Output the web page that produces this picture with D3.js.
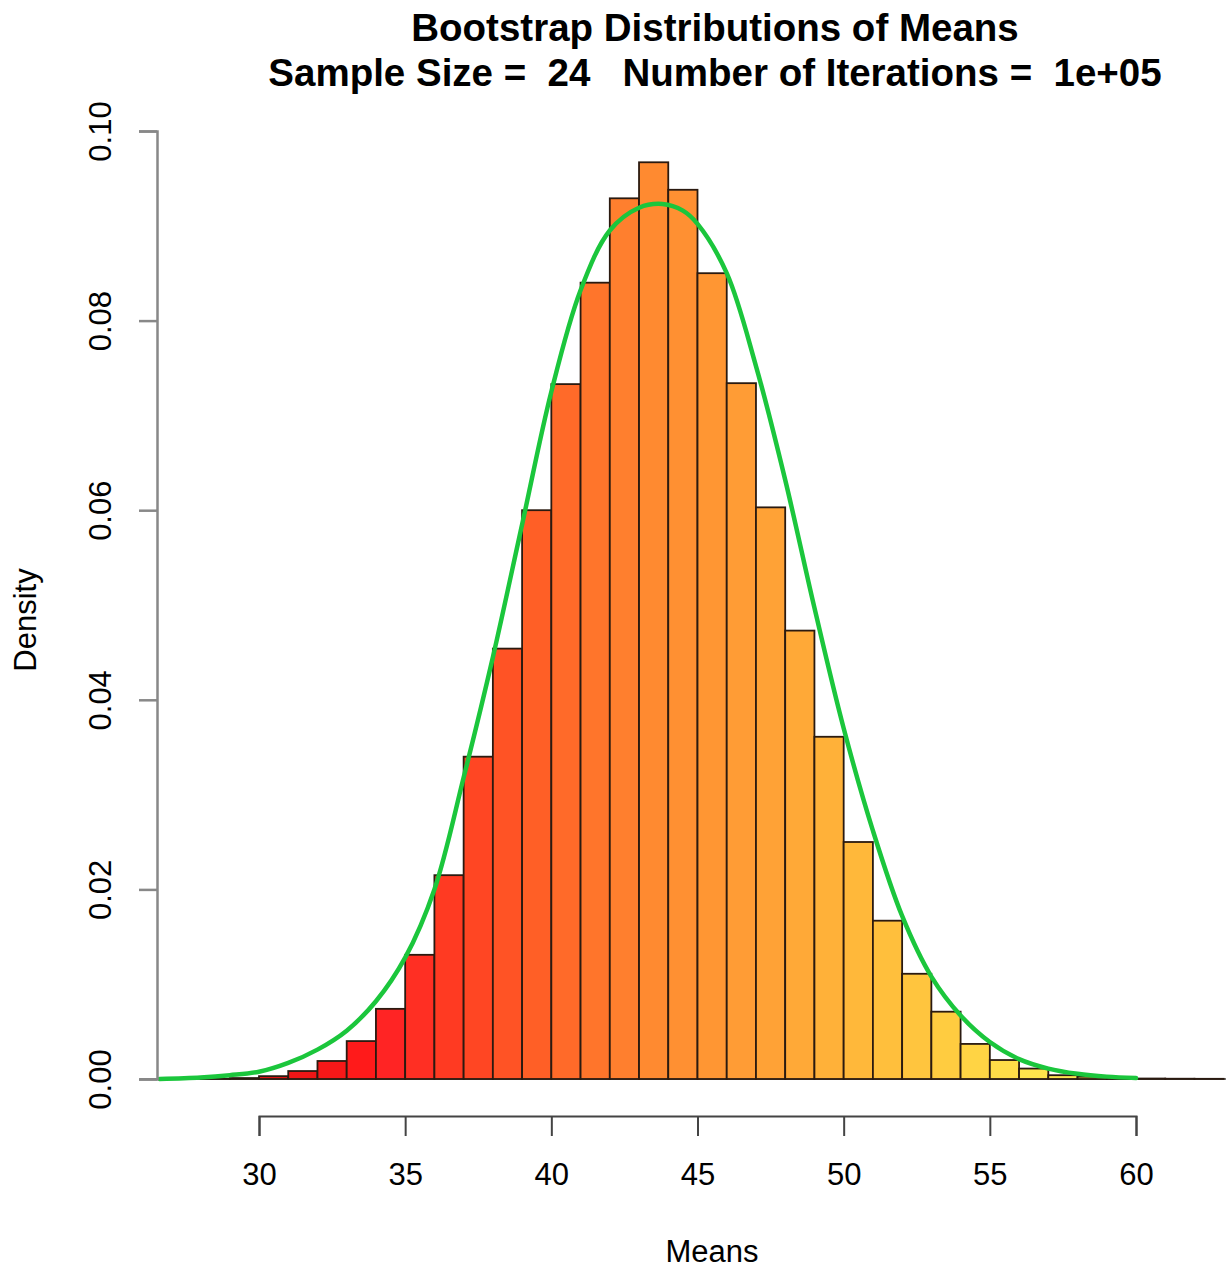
<!DOCTYPE html>
<html>
<head>
<meta charset="utf-8">
<script src="https://cdn.jsdelivr.net/npm/d3@7"></script>
<style>
  body { margin: 0; background: #fff; }
  text { font-family: "Liberation Sans", Arial, Helvetica, sans-serif; }
</style>
</head>
<body>
<div id="chart"></div>
<script>
// histogram bins (left edge of each 1-unit bin) and densities
var binStarts = [28, 29, 30, 31, 32, 33, 34, 35, 36, 37, 38, 39, 40, 41, 42, 43, 44,
  45, 46, 47, 48, 49, 50, 51, 52, 53, 54, 55, 56, 57, 58, 59, 60, 61, 62];
var densities = [0.00003, 0.0001, 0.0003, 0.00084, 0.0019, 0.0040, 0.0074, 0.0131,
  0.0215, 0.0340, 0.0454, 0.0600, 0.0733, 0.0840, 0.0929, 0.0967, 0.0938, 0.0850,
  0.0734, 0.0603, 0.0473, 0.0361, 0.0250, 0.0167, 0.0111, 0.0071, 0.0037, 0.0020,
  0.0011, 0.0004, 0.00024, 0.0001, 0.00005, 0.00003, 0.00002];

// green density curve
var curveX = [26.6, 28, 29, 30, 31, 32, 33, 34, 35, 36, 37, 38, 39, 40, 41, 42, 43,
  43.8, 44.5, 45, 46, 47, 48, 49, 50, 51, 52, 53, 54, 55, 56, 57, 58, 59, 60];
var curveY = [0, 0.00016, 0.0004, 0.00077, 0.0017, 0.0031, 0.0051, 0.0082, 0.0128,
  0.0200, 0.0318, 0.0445, 0.0585, 0.0725, 0.0832, 0.0895, 0.0919, 0.0923, 0.0916,
  0.0902, 0.0850, 0.0752, 0.0632, 0.0497, 0.0370, 0.0262, 0.0172, 0.0108, 0.0067,
  0.0039, 0.0021, 0.0011, 0.00055, 0.00025, 0.0001];

var xTicks = [30, 35, 40, 45, 50, 55, 60];
var yTicks = [0, 0.02, 0.04, 0.06, 0.08, 0.10];

var titleLines = ["Bootstrap Distributions of Means",
  "Sample Size =  24   Number of Iterations =  1e+05"];

var w = 1231, h = 1269;

var x = d3.scaleLinear().domain([30, 60]).range([259, 1136]);
var y = d3.scaleLinear().domain([0, 0.1]).range([1079, 131]);

// heat-like palette, red on the left to yellow on the right
var fill = d3.scaleLinear()
  .domain([28, 33, 34, 36, 39, 43, 47, 50, 53, 56, 62])
  .range(["#d81010", "#ff1a1a", "#ff2424", "#ff3a22", "#ff5f26", "#ff8a30",
    "#ffa236", "#ffb83a", "#ffcc40", "#ffe44c", "#fff262"])
  .interpolate(d3.interpolateRgb);

var svg = d3.select("#chart")
  .append("svg")
  .attr("width", w)
  .attr("height", h);

// baseline at zero
svg.append("line")
  .attr("x1", 140).attr("x2", 1226)
  .attr("y1", y(0)).attr("y2", y(0))
  .attr("stroke", "#777")
  .attr("stroke-width", 2);

var bins = binStarts.map(function(b, i) {
  return { x0: b, x1: b + 1, d: densities[i] };
});

svg.append("g")
  .selectAll("rect")
  .data(bins)
  .enter()
  .append("rect")
  .attr("x", function(d) { return x(d.x0); })
  .attr("width", function(d) { return x(d.x1) - x(d.x0); })
  .attr("y", function(d) { return y(d.d); })
  .attr("height", function(d) { return y(0) - y(d.d); })
  .attr("fill", function(d) { return fill(d.x0); })
  .attr("stroke", "#2a1a10")
  .attr("stroke-width", 1.8);

var pts = curveX.map(function(v, i) { return [v, curveY[i]]; });
var line = d3.line()
  .x(function(d) { return x(d[0]); })
  .y(function(d) { return y(d[1]); })
  .curve(d3.curveCatmullRom.alpha(0.5));

svg.append("path")
  .datum(pts)
  .attr("d", line)
  .attr("fill", "none")
  .attr("stroke", "#1bc63c")
  .attr("stroke-width", 4.5)
  .attr("stroke-linecap", "round");

// x axis, R style: line only between first and last tick
var xAxis = svg.append("g")
  .attr("transform", "translate(0,1116)")
  .call(d3.axisBottom(x).tickValues(xTicks).tickSize(20).tickSizeOuter(20)
    .tickPadding(27).tickFormat(d3.format("d")));
xAxis.select(".domain").attr("stroke", "#444").attr("stroke-width", 2);
xAxis.selectAll(".tick line").attr("stroke", "#444").attr("stroke-width", 2);
xAxis.selectAll("text")
  .attr("fill", "#000")
  .style("font-size", "31px");

var yAxis = svg.append("g")
  .attr("transform", "translate(157,0)")
  .call(d3.axisLeft(y).tickValues(yTicks).tickSize(18).tickSizeOuter(18)
    .tickFormat(d3.format(".2f")));
yAxis.select(".domain").attr("stroke", "#888").attr("stroke-width", 2.5);
yAxis.selectAll(".tick line").attr("stroke", "#888").attr("stroke-width", 2.5);
yAxis.selectAll(".tick text")
  .attr("fill", "#000")
  .style("font-size", "31px")
  .attr("text-anchor", "middle")
  .attr("dy", null)
  .attr("x", null)
  .attr("transform", "translate(-57,0) rotate(-90)")
  .attr("dominant-baseline", "central");

// titles
svg.selectAll(".title")
  .data(titleLines)
  .enter()
  .append("text")
  .attr("class", "title")
  .attr("x", 715)
  .attr("y", function(d, i) { return 41 + i * 45; })
  .attr("text-anchor", "middle")
  .style("font-size", "38.5px")
  .style("font-weight", "bold")
  .style("white-space", "pre")
  .attr("xml:space", "preserve")
  .text(function(d) { return d; });

svg.append("text")
  .attr("x", 712)
  .attr("y", 1262)
  .attr("text-anchor", "middle")
  .style("font-size", "31px")
  .text("Means");

svg.append("text")
  .attr("transform", "translate(36,620) rotate(-90)")
  .attr("text-anchor", "middle")
  .style("font-size", "31px")
  .text("Density");
</script>
</body>
</html>
